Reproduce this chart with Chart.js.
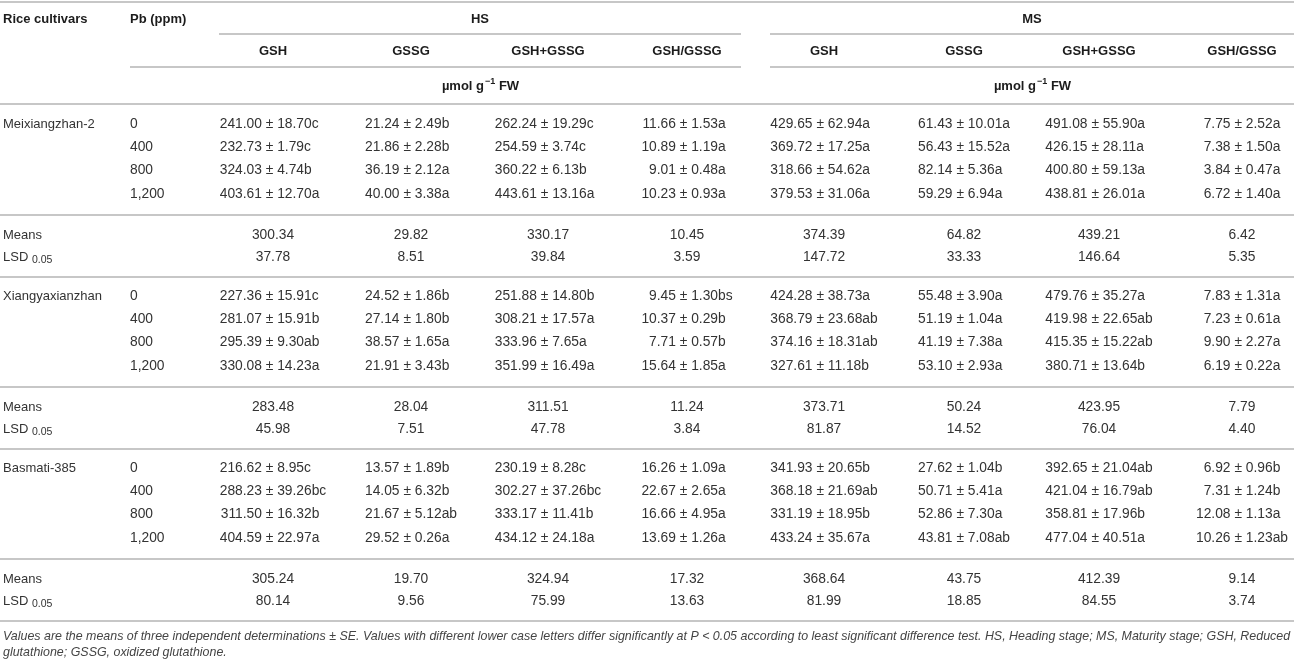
<!DOCTYPE html>
<html>
<head>
<meta charset="utf-8">
<title>Glutathione in rice cultivars</title>
<script src="https://cdn.jsdelivr.net/npm/chart.js@4.4.0/dist/chart.umd.min.js"></script>
<style>
  html, body { margin: 0; padding: 0; background: #fff; }
  #wrap { position: relative; width: 1294px; height: 662px; }
</style>
</head>
<body>
<div id="wrap"><canvas id="tableChart"></canvas></div>
<script>
// Table data
const cultivars = ['Meixiangzhan-2', 'Xiangyaxianzhan', 'Basmati-385'];
const pbLevels = ['0', '400', '800', '1,200'];
const stages = ['HS', 'MS'];
const measures = ['GSH', 'GSSG', 'GSH+GSSG', 'GSH/GSSG'];

const meixValues = [
    ['241.00 ± 18.70c', '21.24 ± 2.49b', '262.24 ± 19.29c', '11.66 ± 1.53a', '429.65 ± 62.94a', '61.43 ± 10.01a', '491.08 ± 55.90a', '7.75 ± 2.52a'],
    ['232.73 ± 1.79c', '21.86 ± 2.28b', '254.59 ± 3.74c', '10.89 ± 1.19a', '369.72 ± 17.25a', '56.43 ± 15.52a', '426.15 ± 28.11a', '7.38 ± 1.50a'],
    ['324.03 ± 4.74b', '36.19 ± 2.12a', '360.22 ± 6.13b', '9.01 ± 0.48a', '318.66 ± 54.62a', '82.14 ± 5.36a', '400.80 ± 59.13a', '3.84 ± 0.47a'],
    ['403.61 ± 12.70a', '40.00 ± 3.38a', '443.61 ± 13.16a', '10.23 ± 0.93a', '379.53 ± 31.06a', '59.29 ± 6.94a', '438.81 ± 26.01a', '6.72 ± 1.40a']
];
const xiangValues = [
    ['227.36 ± 15.91c', '24.52 ± 1.86b', '251.88 ± 14.80b', '9.45 ± 1.30bs', '424.28 ± 38.73a', '55.48 ± 3.90a', '479.76 ± 35.27a', '7.83 ± 1.31a'],
    ['281.07 ± 15.91b', '27.14 ± 1.80b', '308.21 ± 17.57a', '10.37 ± 0.29b', '368.79 ± 23.68ab', '51.19 ± 1.04a', '419.98 ± 22.65ab', '7.23 ± 0.61a'],
    ['295.39 ± 9.30ab', '38.57 ± 1.65a', '333.96 ± 7.65a', '7.71 ± 0.57b', '374.16 ± 18.31ab', '41.19 ± 7.38a', '415.35 ± 15.22ab', '9.90 ± 2.27a'],
    ['330.08 ± 14.23a', '21.91 ± 3.43b', '351.99 ± 16.49a', '15.64 ± 1.85a', '327.61 ± 11.18b', '53.10 ± 2.93a', '380.71 ± 13.64b', '6.19 ± 0.22a']
];
const basmatiValues = [
    ['216.62 ± 8.95c', '13.57 ± 1.89b', '230.19 ± 8.28c', '16.26 ± 1.09a', '341.93 ± 20.65b', '27.62 ± 1.04b', '392.65 ± 21.04ab', '6.92 ± 0.96b'],
    ['288.23 ± 39.26bc', '14.05 ± 6.32b', '302.27 ± 37.26bc', '22.67 ± 2.65a', '368.18 ± 21.69ab', '50.71 ± 5.41a', '421.04 ± 16.79ab', '7.31 ± 1.24b'],
    ['311.50 ± 16.32b', '21.67 ± 5.12ab', '333.17 ± 11.41b', '16.66 ± 4.95a', '331.19 ± 18.95b', '52.86 ± 7.30a', '358.81 ± 17.96b', '12.08 ± 1.13a'],
    ['404.59 ± 22.97a', '29.52 ± 0.26a', '434.12 ± 24.18a', '13.69 ± 1.26a', '433.24 ± 35.67a', '43.81 ± 7.08ab', '477.04 ± 40.51a', '10.26 ± 1.23ab']
];
const meansValues = [
    ['300.34', '29.82', '330.17', '10.45', '374.39', '64.82', '439.21', '6.42'],
    ['283.48', '28.04', '311.51', '11.24', '373.71', '50.24', '423.95', '7.79'],
    ['305.24', '19.70', '324.94', '17.32', '368.64', '43.75', '412.39', '9.14']
];
const lsdValues = [
    ['37.78', '8.51', '39.84', '3.59', '147.72', '33.33', '146.64', '5.35'],
    ['45.98', '7.51', '47.78', '3.84', '81.87', '14.52', '76.04', '4.40'],
    ['80.14', '9.56', '75.99', '13.63', '81.99', '18.85', '84.55', '3.74']
];
const footnoteLines = [
    'Values are the means of three independent determinations ± SE. Values with different lower case letters differ significantly at P < 0.05 according to least significant difference test. HS, Heading stage; MS, Maturity stage; GSH, Reduced',
    'glutathione; GSSG, oxidized glutathione.'
];
const groupValues = [meixValues, xiangValues, basmatiValues];

// Layout (in scale units, which equal page pixels here)
const W = 1294, H = 662;
const colX = [273, 411, 548, 687, 824, 964, 1099, 1242];
const stageSpan = [[219, 741], [770, 1294]];
const xCultivar = 3, xPb = 130;
const yTop = 2, yStage = 19, yStageRule = 34, yMeasure = 51, yMeasureRule = 67, yUnit = 86, yHeadRule = 104;
const groupStart = 124, groupStep = 172, rowStep = 23.3;

const FONT = '"Liberation Sans", Arial, Helvetica, sans-serif';
const textColor = '#333333';
const headColor = '#1c1c1c';
const ruleColor = '#b4b4b4';

const tablePlugin = {
    id: 'tableCells',
    afterDraw(chart) {
        const c = chart.ctx;
        const xs = chart.scales.x;
        const ys = chart.scales.y;
        const px = v => xs.getPixelForValue(v);
        const py = v => ys.getPixelForValue(v);

        c.save();
        c.textBaseline = 'middle';

        function rule(x0, x1, y) {
            c.strokeStyle = ruleColor;
            c.lineWidth = 1.7;
            c.beginPath();
            c.moveTo(px(x0), py(y));
            c.lineTo(px(x1), py(y));
            c.stroke();
        }
        function text(str, x, y, align, font, color) {
            c.font = font;
            c.fillStyle = color;
            c.textAlign = align;
            c.fillText(str, px(x), py(y));
        }

        const bold = 'bold 13px ' + FONT;
        const normal = '13px ' + FONT;
        const numeric = '13.8px ' + FONT;

        // header
        rule(0, W, yTop);
        text('Rice cultivars', xCultivar, yStage, 'left', bold, headColor);
        text('Pb (ppm)', xPb, yStage, 'left', bold, headColor);
        stages.forEach((s, i) => {
            const [a, b] = stageSpan[i];
            text(s, (a + b) / 2, yStage, 'center', bold, headColor);
            rule(a, b, yStageRule);
            rule(i === 0 ? xPb : a, b, yMeasureRule);
            measures.forEach((m, j) => {
                text(m, colX[i * 4 + j], yMeasure, 'center', bold, headColor);
            });
            // unit label with superscript
            const mid = (a + b) / 2;
            c.font = bold;
            const w1 = c.measureText('\u00b5mol g').width;
            const w3 = c.measureText(' FW').width;
            c.font = 'bold 9px ' + FONT;
            const w2 = c.measureText('\u22121').width;
            const x0 = mid - (w1 + w2 + w3) / 2;
            text('\u00b5mol g', x0, yUnit, 'left', bold, headColor);
            text('\u22121', x0 + w1 + 1, yUnit - 4, 'left', 'bold 9px ' + FONT, headColor);
            text(' FW', x0 + w1 + w2 + 1, yUnit, 'left', bold, headColor);
        });
        rule(0, W, yHeadRule);

        // decimal alignment on the ± sign, per column
        c.font = numeric;
        const anchors = colX.map((cx, col) => {
            let lw = 0, rw = 0;
            groupValues.forEach(g => g.forEach(row => {
                const k = row[col].indexOf('±');
                lw = Math.max(lw, c.measureText(row[col].slice(0, k)).width);
                rw = Math.max(rw, c.measureText(row[col].slice(k)).width);
            }));
            return cx - (lw + rw) / 2 + lw;
        });

        cultivars.forEach((name, g) => {
            const r0 = groupStart + g * groupStep;
            text(name, xCultivar, r0, 'left', normal, textColor);
            pbLevels.forEach((pb, r) => {
                const y = r0 + r * rowStep;
                text(pb, xPb, y, 'left', numeric, textColor);
                groupValues[g][r].forEach((cell, col) => {
                    const k = cell.indexOf('±');
                    text(cell.slice(0, k), anchors[col], y, 'right', numeric, textColor);
                    text(cell.slice(k), anchors[col], y, 'left', numeric, textColor);
                });
            });
            rule(0, W, r0 + 91);
            const yMean = r0 + 111, yLsd = r0 + 133;
            text('Means', xCultivar, yMean, 'left', normal, textColor);
            c.font = normal;
            const lw = c.measureText('LSD ').width;
            text('LSD ', xCultivar, yLsd, 'left', normal, textColor);
            text('0.05', xCultivar + lw, yLsd + 3, 'left', '10.5px ' + FONT, textColor);
            meansValues[g].forEach((v, col) => text(v, colX[col], yMean, 'center', numeric, textColor));
            lsdValues[g].forEach((v, col) => text(v, colX[col], yLsd, 'center', numeric, textColor));
            rule(0, W, r0 + 153);
        });

        // footnote, fitted to the table width
        c.font = 'italic 12px ' + FONT;
        const fw = c.measureText(footnoteLines[0]).width;
        const fs = Math.min(12.5, 12 * 1288 / fw);
        const yFoot = groupStart + 2 * groupStep + 153;
        footnoteLines.forEach((line, i) => {
            text(line, xCultivar, yFoot + 16 + i * 16, 'left', 'italic ' + fs.toFixed(2) + 'px ' + FONT, '#444444');
        });

        c.restore();
    }
};

new Chart(document.getElementById('tableChart'), {
    type: 'scatter',
    data: { datasets: [] },
    options: {
        responsive: true,
        maintainAspectRatio: false,
        animation: false,
        events: [],
        layout: { padding: 0 },
        plugins: {
            legend: { display: false },
            title: { display: false },
            tooltip: { enabled: false }
        },
        scales: {
            x: { type: 'linear', min: 0, max: W, display: false },
            y: { type: 'linear', min: 0, max: H, reverse: true, display: false }
        }
    },
    plugins: [tablePlugin]
});
</script>
</body>
</html>
